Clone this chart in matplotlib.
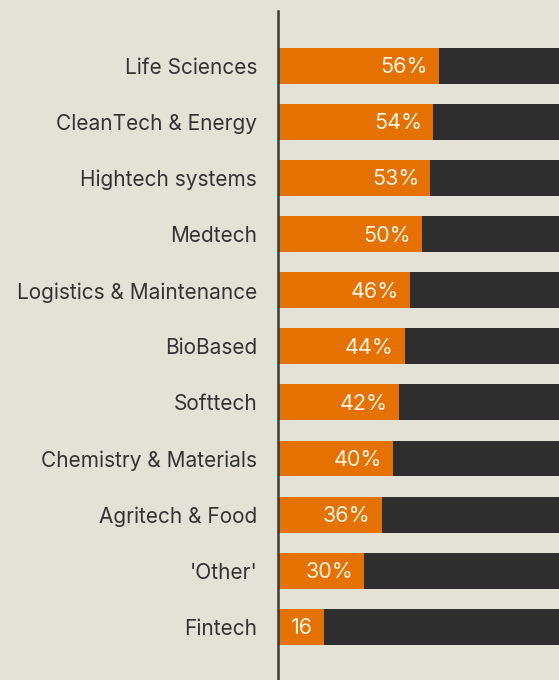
import matplotlib
matplotlib.use("Agg")
import matplotlib.pyplot as plt

sectors = ["Life Sciences", "CleanTech & Energy", "Hightech systems", "Medtech",
           "Logistics & Maintenance", "BioBased", "Softtech", "Chemistry & Materials",
           "Agritech & Food", "'Other'", "Fintech"]
share = [56, 54, 53, 50, 46, 44, 42, 40, 36, 30, 16]
labels = ["56%", "54%", "53%", "50%", "46%", "44%", "42%", "40%", "36%", "30%", "16"]

bg = "#e4e2d6"
orange = "#e57200"
dark = "#2e2e2e"

plt.rcParams['font.family'] = ['Inter', 'DejaVu Sans']

fig = plt.figure(figsize=(5.59, 6.8), dpi=100, facecolor=bg)
ax = fig.add_axes([278 / 559, 0, 281 / 559, 669 / 680], facecolor=bg)

y = list(range(len(sectors)))
rest = [100 - s for s in share]
ax.barh(y, share, height=0.64, color=orange)
ax.barh(y, rest, left=share, height=0.64, color=dark)

for i, (s, lab) in enumerate(zip(share, labels)):
    ax.annotate(lab, (s, i), xytext=(-8, -1), textcoords="offset points",
                ha="right", va="center", color="#fbf3e6", fontsize=15.5)

ax.set_xlim(0, 97.7)
ax.set_ylim(10.95, -0.98)
ax.set_yticks(y)
ax.set_yticklabels(sectors, fontsize=15, color="#333333")
ax.tick_params(axis="y", length=0, pad=15)
ax.set_xticks([])
for side in ["top", "right", "bottom"]:
    ax.spines[side].set_visible(False)
ax.spines["left"].set_color("#3a3a3a")
ax.spines["left"].set_linewidth(1.8)

fig.savefig("out.png", dpi=100, facecolor=bg)
